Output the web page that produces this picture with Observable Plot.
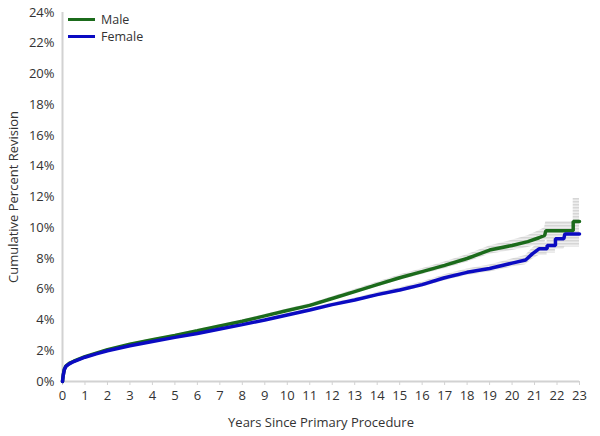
<!DOCTYPE html>
<html><head><meta charset="utf-8">
<script src="https://cdn.jsdelivr.net/npm/d3@7"></script>
<script src="https://cdn.jsdelivr.net/npm/@observablehq/plot@0.6"></script>
<style>
body{margin:0;background:#fff;}
#wrap{position:relative;width:600px;height:436px;font-family:"Open Sans",sans-serif;}
.leg{position:absolute;left:68px;font-size:12.5px;color:#333;display:flex;align-items:center;height:16px;}
.leg .sw{display:inline-block;width:27px;height:3px;margin-right:6px;}
</style></head><body><div id="wrap"></div>
<script>
const xTicks = [0,1,2,3,4,5,6,7,8,9,10,11,12,13,14,15,16,17,18,19,20,21,22,23];
const yTicks = [0,2,4,6,8,10,12,14,16,18,20,22,24];
const seriesNames = ["Male","Female"];
const seriesColors = ["#1b6b1b","#0b0bc2"];

const maleYears = [0,0.03,0.08,0.15,0.3,0.5,1,1.5,2,3,4,5,6,7,8,9,10,11,12,13,14,15,16,17,18,19,20,20.7,21.2,21.45,21.5,22.72,22.72,23];
const maleValues = [0,0.4,0.8,1.0,1.18,1.32,1.62,1.85,2.07,2.42,2.72,3.0,3.3,3.62,3.92,4.27,4.62,4.95,5.4,5.85,6.3,6.75,7.15,7.55,8.0,8.55,8.85,9.1,9.35,9.5,9.8,9.8,10.4,10.4];
const maleLower = [0,0.37,0.76,0.96,1.14,1.28,1.58,1.81,2.02,2.37,2.66,2.94,3.23,3.55,3.84,4.18,4.52,4.84,5.28,5.72,6.15,6.58,6.96,7.33,7.76,8.28,8.52,8.72,8.9,9.0,9.2,9.2,9.0,9.0];
const maleUpper = [0,0.43,0.84,1.04,1.22,1.36,1.66,1.89,2.12,2.47,2.78,3.06,3.37,3.69,4.0,4.36,4.72,5.06,5.52,5.98,6.45,6.92,7.34,7.77,8.24,8.82,9.18,9.48,9.8,10.0,10.4,10.4,11.9,11.9];

const femaleYears = [0,0.03,0.08,0.15,0.3,0.5,1,1.5,2,3,4,5,6,7,8,9,10,11,12,13,14,15,16,17,18,19,20,20.6,20.9,21.2,21.56,21.56,21.93,21.93,22.3,22.35,23];
const femaleValues = [0,0.38,0.76,0.98,1.15,1.3,1.58,1.8,2.0,2.32,2.6,2.87,3.12,3.42,3.7,4.0,4.33,4.65,5.0,5.3,5.65,5.95,6.3,6.75,7.1,7.35,7.7,7.9,8.3,8.63,8.63,8.85,8.85,9.28,9.28,9.6,9.6];
const femaleLower = [0,0.35,0.72,0.94,1.11,1.26,1.54,1.76,1.95,2.27,2.55,2.81,3.06,3.35,3.63,3.92,4.24,4.55,4.89,5.18,5.51,5.8,6.13,6.56,6.89,7.12,7.44,7.6,7.95,8.2,8.2,8.35,8.35,8.6,8.6,8.75,8.75];
const femaleUpper = [0,0.41,0.8,1.02,1.19,1.34,1.62,1.84,2.05,2.37,2.65,2.93,3.18,3.49,3.77,4.08,4.42,4.75,5.11,5.42,5.79,6.1,6.47,6.94,7.31,7.58,7.96,8.2,8.65,9.05,9.05,9.3,9.3,9.85,9.85,10.2,10.2];

function rows(years, vals, lo, hi){ return years.map((y,i)=>({year:y, v:vals[i], lo:lo[i], hi:hi[i]})); }
const maleRows = rows(maleYears, maleValues, maleLower, maleUpper);
const femaleRows = rows(femaleYears, femaleValues, femaleLower, femaleUpper);

const plot = Plot.plot({
  width:600, height:436,
  marginLeft:62, marginRight:21, marginTop:12, marginBottom:55,
  style:{fontFamily:"'Open Sans', sans-serif", fontSize:"12.5px", color:"#333", background:"#fff", overflow:"visible"},
  x:{domain:[0,23]},
  y:{domain:[0,24]},
  marks:[
    Plot.areaY(maleRows,{x:"year", y1:"lo", y2:"hi", fill:"url(#ciStripes)"}),
    Plot.areaY(femaleRows,{x:"year", y1:"lo", y2:"hi", fill:"url(#ciStripes)"}),
    Plot.ruleX([0],{stroke:"#d2d2d2", strokeWidth:2}),
    Plot.ruleY([0],{stroke:"#d2d2d2", strokeWidth:2}),
    Plot.axisX({ticks:xTicks, tickSize:4, tickPadding:5, stroke:"#d2d2d2", fill:"#333", fontSize:13,
      label:"Years Since Primary Procedure", labelAnchor:"center", labelArrow:"none", labelOffset:45}),
    Plot.axisY({ticks:yTicks, tickSize:0, tickPadding:8, tickFormat:d=>d+"%", fill:"#333", fontSize:13,
      label:"Cumulative Percent Revision", labelAnchor:"center", labelArrow:"none", labelOffset:54}),
    Plot.line(maleRows,{x:"year", y:"v", stroke:seriesColors[0], strokeWidth:3.5, strokeLinejoin:"miter"}),
    Plot.line(femaleRows,{x:"year", y:"v", stroke:seriesColors[1], strokeWidth:3.5, strokeLinejoin:"miter"})
  ]
});
const ns = "http://www.w3.org/2000/svg";
const defs = document.createElementNS(ns, "defs");
defs.innerHTML = '<pattern id="ciStripes" patternUnits="userSpaceOnUse" width="4" height="3"><rect width="4" height="3" fill="#eeeeee"/><rect width="4" height="1.5" fill="#d6d6d6"/></pattern>';
plot.insertBefore(defs, plot.firstChild);
const wrap = document.getElementById("wrap");
wrap.appendChild(plot);
seriesNames.forEach((n,i)=>{
  const d = document.createElement("div");
  d.className = "leg";
  d.style.top = (11 + i*17) + "px";
  d.innerHTML = `<span class="sw" style="background:${seriesColors[i]}"></span><span>${n}</span>`;
  wrap.appendChild(d);
});
</script></body></html>
